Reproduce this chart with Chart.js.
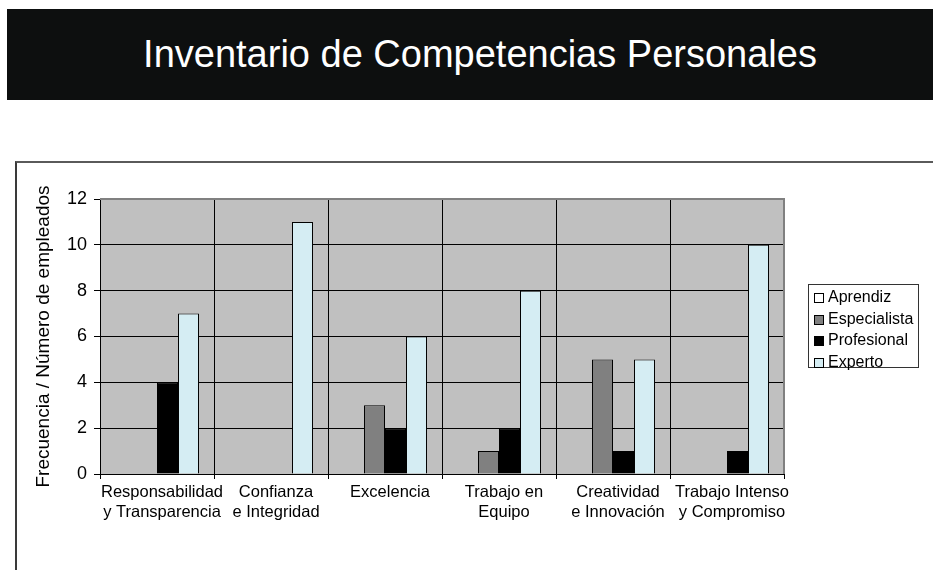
<!DOCTYPE html>
<html>
<head>
<meta charset="utf-8">
<script src="https://cdn.jsdelivr.net/npm/chart.js@4"></script>
<style>
  html, body { margin:0; padding:0; background:#fff; width:933px; height:570px; overflow:hidden; font-family:"Liberation Sans", Arial, sans-serif; }
  #band { position:absolute; left:7px; top:9px; width:926px; height:91px; background:#0d0f0f; }
  #title { position:absolute; left:7px; top:9px; width:946px; height:91px; line-height:91px; text-align:center; color:#fff; font-size:38px; font-family:"Liberation Sans", Arial, sans-serif; }
  #frame { position:absolute; left:15px; top:161px; width:930px; height:420px; border-left:2px solid #3a3a3a; border-top:2px solid #5a5a5a; }
  #wrap { position:absolute; left:17px; top:163px; width:916px; height:407px; }
  #legend { position:absolute; left:808px; top:284px; width:111px; height:84px; border:1px solid #333; background:#fff; box-sizing:border-box; }
  .item { position:absolute; left:0; height:20px; font-size:16px; line-height:20px; color:#000; white-space:nowrap; }
  .sw { position:absolute; left:5px; top:6px; width:8px; height:8px; border:1px solid #000; }
  .lb { position:absolute; left:19px; top:0; }
</style>
</head>
<body>
<div id="band"></div>
<div id="title">Inventario de Competencias Personales</div>
<div id="frame"></div>
<div id="wrap"><canvas id="c" width="916" height="407"></canvas></div>
<div id="legend"></div>
<script>
const categories = [
  ["Responsabilidad", "y Transparencia"],
  ["Confianza", "e Integridad"],
  ["Excelencia"],
  ["Trabajo en", "Equipo"],
  ["Creatividad", "e Innovación"],
  ["Trabajo Intenso", "y Compromiso"]
];
const seriesNames = ["Aprendiz", "Especialista", "Profesional", "Experto"];
const aprendiz     = [0, 0, 0, 0, 0, 0];
const especialista = [0, 0, 3, 1, 5, 0];
const profesional  = [4, 0, 2, 2, 1, 1];
const experto      = [7, 11, 6, 8, 5, 10];
const seriesColors = ["#FFFFFF", "#808080", "#000000", "#D5EDF3"];
const yTicks = [0, 2, 4, 6, 8, 10, 12];
const yTitle = "Frecuencia / Número de empleados";

const seriesValues = [aprendiz, especialista, profesional, experto];

const plotBg = {
  id: 'plotBg',
  beforeDraw(chart) {
    const {ctx, chartArea:a} = chart;
    ctx.save();
    ctx.fillStyle = '#C0C0C0';
    ctx.fillRect(a.left, a.top, a.right - a.left, a.bottom - a.top);
    ctx.restore();
  },
  afterDraw(chart) {
    const {ctx, chartArea:a} = chart;
    ctx.save();
    ctx.strokeStyle = '#808080';
    ctx.lineWidth = 2;
    ctx.beginPath();
    ctx.moveTo(a.left, a.top);
    ctx.lineTo(a.right, a.top);
    ctx.lineTo(a.right, a.bottom);
    ctx.stroke();
    ctx.restore();
  }
};

new Chart(document.getElementById('c'), {
  type: 'bar',
  data: {
    labels: categories,
    datasets: seriesNames.map((n, i) => ({
      label: n,
      data: seriesValues[i],
      backgroundColor: seriesColors[i],
      borderColor: '#000',
      borderWidth: ctx => (ctx.raw === 0 ? 0 : 1),
      barPercentage: 1,
      categoryPercentage: 0.737
    }))
  },
  options: {
    responsive: false,
    animation: false,
    devicePixelRatio: 1,
    layout: { padding: { left: 0, top: 36, right: 149, bottom: 0 } },
    plugins: { legend: { display: false }, tooltip: { enabled: false } },
    scales: {
      x: {
        grid: { color: '#000', lineWidth: 1, offset: true, drawTicks: true, tickLength: 5 },
        border: { color: '#000', width: 1 },
        ticks: { color: '#000', padding: 3, labelOffset: 5, maxRotation: 0, autoSkip: false,
                 font: { family: 'Liberation Sans', size: 16.5, lineHeight: 1.25 } },
        afterFit(s) { s.height = 96; }
      },
      y: {
        min: 0, max: 12,
        afterBuildTicks(s) { s.ticks = yTicks.map(v => ({ value: v })); },
        grid: { color: '#000', lineWidth: 1, drawTicks: true, tickLength: 6 },
        border: { color: '#000', width: 1 },
        ticks: { color: '#000', padding: 7, font: { family: 'Liberation Sans', size: 18 } },
        title: { display: true, text: yTitle, color: '#000', padding: { top: 15, bottom: 0 },
                 font: { family: 'Liberation Sans', size: 19, lineHeight: 1.2 } },
        afterFit(s) { s.width = 83; }
      }
    }
  },
  plugins: [plotBg]
});

const lg = document.getElementById('legend');
seriesNames.forEach((n, i) => {
  const it = document.createElement('div');
  it.className = 'item';
  it.style.top = (2 + i * 21.5) + 'px';
  const sw = document.createElement('span');
  sw.className = 'sw';
  sw.style.background = seriesColors[i];
  const lb = document.createElement('span');
  lb.className = 'lb';
  lb.textContent = n;
  it.appendChild(sw); it.appendChild(lb);
  lg.appendChild(it);
});
</script>
</body>
</html>
